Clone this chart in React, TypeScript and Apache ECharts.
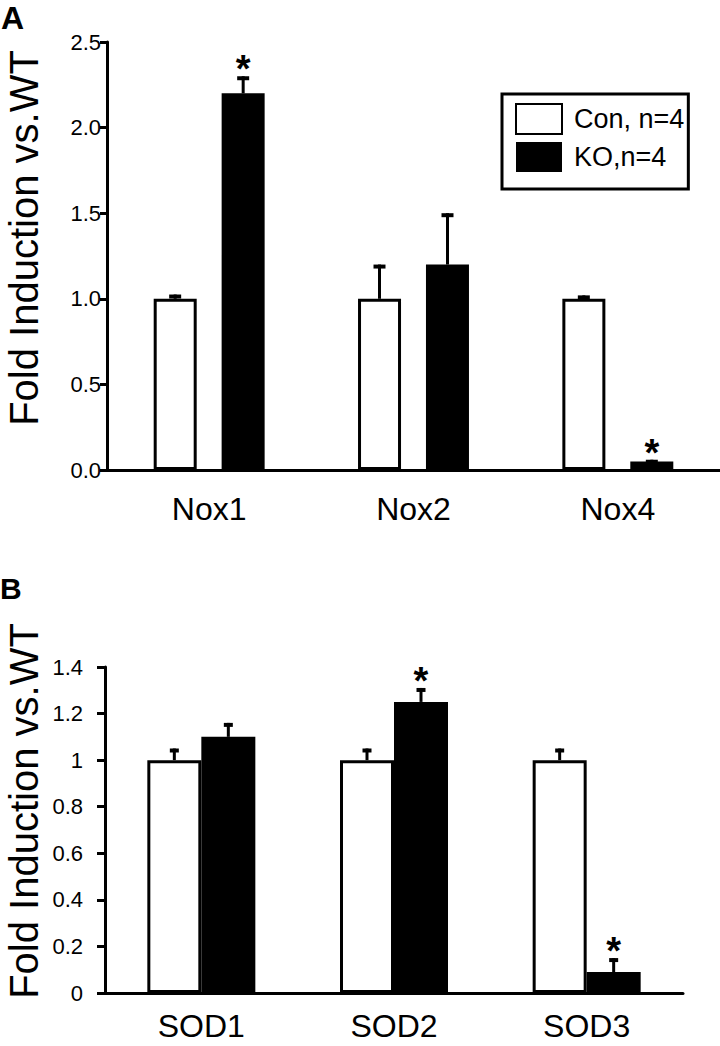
import React, { useEffect, useRef } from "react";
import * as echarts from "echarts";

const FONT = '"Liberation Sans", Arial, Helvetica, sans-serif';

// Panel A
const categoriesA = ["Nox1", "Nox2", "Nox4"];
const conA = [1.0, 1.0, 1.0];
const conErrA = [0.025, 0.2, 0.02];
const koA = [2.2, 1.2, 0.05];
const koErrA = [0.1, 0.3, 0.01];
const koSigA = [1, 0, 1];
const ticksA = ["0.0", "0.5", "1.0", "1.5", "2.0", "2.5"];

// Panel B
const categoriesB = ["SOD1", "SOD2", "SOD3"];
const conB = [1.0, 1.0, 1.0];
const conErrB = [0.05, 0.05, 0.05];
const koB = [1.1, 1.25, 0.09];
const koErrB = [0.06, 0.06, 0.06];
const koSigB = [0, 1, 1];
const ticksB = ["0", "0.2", "0.4", "0.6", "0.8", "1", "1.2", "1.4"];

const legendNames = ["Con, n=4", "KO,n=4"];
const yTitle = "Fold Induction vs.WT";

function errRender(offset: number, capW: number) {
  return (params: any, api: any) => {
    const ci = api.value(0);
    const v = api.value(1);
    const e = api.value(2);
    const s = api.value(3);
    const base = api.coord([ci, v]);
    const top = api.coord([ci, v + e]);
    const x = base[0] + offset;
    const children: any[] = [];
    if (e > 0) {
      children.push({
        type: "line",
        shape: { x1: x, y1: base[1], x2: x, y2: top[1] },
        style: { stroke: "#000", lineWidth: 3 },
      });
      children.push({
        type: "line",
        shape: { x1: x - capW / 2, y1: top[1] + 2, x2: x + capW / 2, y2: top[1] + 2 },
        style: { stroke: "#000", lineWidth: 4 },
      });
    }
    if (s) {
      children.push({
        type: "text",
        x: x,
        y: top[1] - 7,
        style: {
          text: "*",
          font: "bold 38px " + FONT,
          textAlign: "center",
          textVerticalAlign: "middle",
          fill: "#000",
        },
      });
    }
    return { type: "group", children };
  };
}

function errData(vals: number[], errs: number[], sig?: number[]) {
  return vals.map((v, i) => [i, v, errs[i], sig ? sig[i] : 0]);
}

export default function App() {
  const ref = useRef<HTMLDivElement>(null);
  useEffect(() => {
    if (!ref.current) return;
    const chart = echarts.init(ref.current, undefined, { renderer: "svg" });
    const axisLineStyle = { color: "#000", width: 3 };
    const option: any = {
      animation: false,
      backgroundColor: "#fff",
      textStyle: { fontFamily: FONT, color: "#000" },
      grid: [
        { left: 107, top: 42, width: 613, height: 428 },
        { left: 105, top: 667, width: 578, height: 326 },
      ],
      legend: {
        data: legendNames,
        left: 502,
        top: 94,
        orient: "vertical",
        icon: "rect",
        itemWidth: 46,
        itemHeight: 30,
        itemGap: 7,
        borderColor: "#000",
        borderWidth: 3,
        padding: [9, 4, 17, 13],
        selectedMode: false,
        textStyle: { fontSize: 27, fontFamily: FONT, color: "#000", padding: [0, 0, 0, 7] },
      },
      xAxis: [
        {
          gridIndex: 0,
          type: "category",
          data: categoriesA,
          axisLine: { lineStyle: axisLineStyle },
          axisTick: { show: false },
          axisLabel: { fontSize: 32, margin: 23, color: "#000", fontFamily: FONT },
        },
        {
          gridIndex: 1,
          type: "category",
          data: categoriesB,
          axisLine: { lineStyle: axisLineStyle },
          axisTick: { show: false },
          axisLabel: { fontSize: 32, margin: 17, color: "#000", fontFamily: FONT },
        },
      ],
      yAxis: [
        {
          gridIndex: 0,
          type: "value",
          min: 0,
          max: 2.5,
          interval: 0.5,
          axisLine: { show: true, lineStyle: axisLineStyle },
          axisTick: { show: true, length: 7, lineStyle: { color: "#000", width: 3 } },
          splitLine: { show: false },
          axisLabel: {
            margin: 6,
            fontSize: 22,
            color: "#000",
            fontFamily: FONT,
            formatter: (v: number) => ticksA[Math.round(v / 0.5)],
          },
        },
        {
          gridIndex: 1,
          type: "value",
          min: 0,
          max: 1.4,
          interval: 0.2,
          axisLine: { show: true, lineStyle: axisLineStyle },
          axisTick: { show: true, length: 8, lineStyle: { color: "#000", width: 3 } },
          splitLine: { show: false },
          axisLabel: {
            margin: 22,
            fontSize: 22,
            color: "#000",
            fontFamily: FONT,
            formatter: (v: number) => ticksB[Math.round(v / 0.2)],
          },
        },
      ],
      series: [
        {
          type: "bar",
          name: legendNames[0],
          xAxisIndex: 0,
          yAxisIndex: 0,
          data: conA,
          barWidth: 43,
          barGap: "58%",
          itemStyle: { color: "#fff", borderColor: "#000", borderWidth: 3 },
        },
        {
          type: "bar",
          name: legendNames[1],
          xAxisIndex: 0,
          yAxisIndex: 0,
          data: koA,
          barWidth: 43,
          barGap: "58%",
          itemStyle: { color: "#000" },
        },
        {
          type: "custom",
          xAxisIndex: 0,
          yAxisIndex: 0,
          z: 5,
          renderItem: errRender(-34, 12),
          encode: { x: 0, y: 1 },
          data: errData(conA, conErrA),
        },
        {
          type: "custom",
          xAxisIndex: 0,
          yAxisIndex: 0,
          z: 5,
          renderItem: errRender(34, 12),
          encode: { x: 0, y: 1 },
          data: errData(koA, koErrA, koSigA),
        },
        {
          type: "bar",
          name: legendNames[0],
          xAxisIndex: 1,
          yAxisIndex: 1,
          data: conB,
          barWidth: 54,
          barGap: "0%",
          itemStyle: { color: "#fff", borderColor: "#000", borderWidth: 3 },
        },
        {
          type: "bar",
          name: legendNames[1],
          xAxisIndex: 1,
          yAxisIndex: 1,
          data: koB,
          barWidth: 54,
          barGap: "0%",
          itemStyle: { color: "#000" },
        },
        {
          type: "custom",
          xAxisIndex: 1,
          yAxisIndex: 1,
          z: 5,
          renderItem: errRender(-27, 9),
          encode: { x: 0, y: 1 },
          data: errData(conB, conErrB),
        },
        {
          type: "custom",
          xAxisIndex: 1,
          yAxisIndex: 1,
          z: 5,
          renderItem: errRender(27, 9),
          encode: { x: 0, y: 1 },
          data: errData(koB, koErrB, koSigB),
        },
      ],
      graphic: [
        {
          type: "text",
          x: 1,
          y: 18,
          style: { text: "A", font: "bold 32px " + FONT, fill: "#000", textVerticalAlign: "middle" },
        },
        {
          type: "text",
          x: 0,
          y: 588,
          style: { text: "B", font: "bold 30px " + FONT, fill: "#000", textVerticalAlign: "middle" },
        },
        {
          type: "text",
          x: 24,
          y: 238,
          rotation: Math.PI / 2,
          style: {
            text: yTitle,
            font: "40px " + FONT,
            fill: "#000",
            textAlign: "center",
            textVerticalAlign: "middle",
          },
        },
        {
          type: "text",
          x: 24,
          y: 811,
          rotation: Math.PI / 2,
          style: {
            text: yTitle,
            font: "40px " + FONT,
            fill: "#000",
            textAlign: "center",
            textVerticalAlign: "middle",
          },
        },
      ],
    };
    chart.setOption(option);
    return () => chart.dispose();
  }, []);
  return (
    <div
      ref={ref}
      style={{ position: "fixed", left: 0, top: 0, width: 720, height: 1046, background: "#fff" }}
    />
  );
}
